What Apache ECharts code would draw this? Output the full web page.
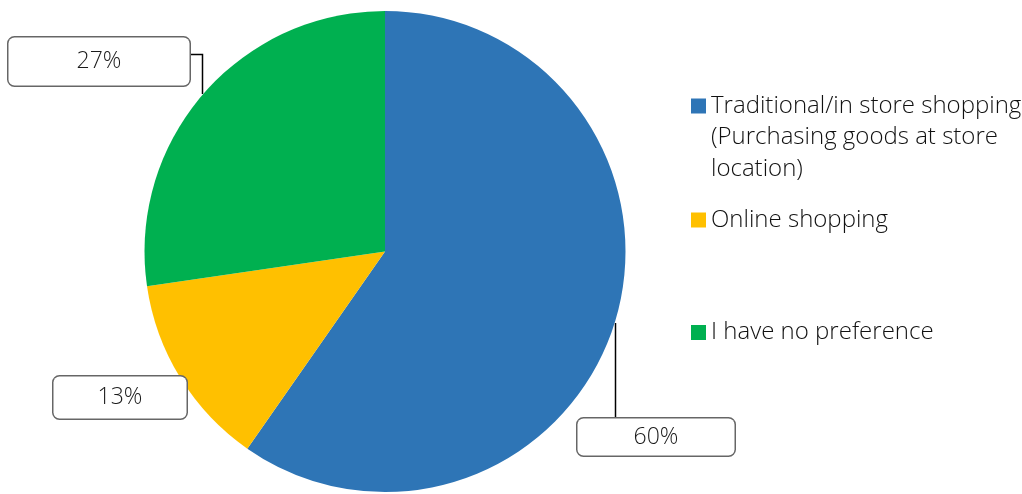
<!DOCTYPE html>
<html><head><meta charset="utf-8">
<script src="https://cdn.jsdelivr.net/npm/echarts@6/dist/echarts.min.js"></script>
<style>html,body{margin:0;padding:0;background:#fff}#c{width:1022px;height:494px}</style>
</head><body><div id="c"></div>
<script>
const categories = ['Traditional/in store shopping (Purchasing goods at store location)', 'Online shopping', 'I have no preference'];
const legendLines = [['Traditional/in store shopping', '(Purchasing goods at store', 'location)'], ['Online shopping'], ['I have no preference']];
const values = [59.7, 13.0, 27.3];
const colors = ['#2E75B6', '#FFC000', '#00B050'];

const FONT = '"Open Sans", "Noto Sans", sans-serif';
// label box geometry (centre x, centre y, width, height) and leader lines
const boxes = [
  {cx: 656, cy: 437, w: 157, h: 37, line: [[615.5, 323], [615.5, 418], [615.5, 418]]},
  {cx: 120, cy: 397.5, w: 133, h: 42, line: null},
  {cx: 99, cy: 61.5, w: 181, h: 48, line: [[202.5, 94], [202.5, 54.5], [190, 54.5]]}
];

const chart = echarts.init(document.getElementById('c'), null, {renderer: 'canvas'});
// icon centre y of each legend entry
const legendCentres = [106, 220, 332.5];
const LH = 31.5;
const legends = categories.map((c, i) => {
  const lines = legendLines[i];
  // pad with leading empty lines so the first line sits level with the icon
  const pad = lines.length - 1;
  const text = new Array(pad).fill('').concat(lines).join('\n');
  const n = pad + lines.length;
  return {
    data: [c],
    left: 691,
    top: legendCentres[i] - n * LH / 2,
    padding: 0,
    orient: 'vertical',
    itemWidth: 15,
    itemHeight: 15,
    icon: 'rect',
    selectedMode: false,
    formatter: () => text,
    textStyle: {fontFamily: FONT, fontSize: 24, fontWeight: 300, color: '#111', lineHeight: LH}
  };
});

chart.setOption({
  animation: false,
  color: colors,
  legend: legends,
  series: [{
    type: 'pie',
    center: [385, 251.5],
    radius: 240.5,
    startAngle: 90,
    clockwise: true,
    avoidLabelOverlap: false,
    percentPrecision: 0,
    itemStyle: {borderWidth: 0},
    data: categories.map((c, i) => ({
      name: c, value: values[i],
      label: {width: boxes[i].w, height: boxes[i].h, lineHeight: boxes[i].h},
      labelLine: {show: !!boxes[i].line}
    })),
    label: {
      show: true,
      position: 'outside',
      formatter: '{d}%',
      fontFamily: FONT, fontSize: 23, fontWeight: 300, color: '#1a1a1a',
      backgroundColor: '#fff', borderColor: '#666', borderWidth: 1.5, borderRadius: 6,
      align: 'center', verticalAlign: 'middle', padding: 0
    },
    labelLine: {show: true, lineStyle: {color: '#000', width: 1.5}},
    labelLayout: function (p) {
      const b = boxes[p.dataIndex];
      const r = {x: b.cx, y: b.cy, align: 'center', verticalAlign: 'middle'};
      if (b.line) r.labelLinePoints = b.line;
      return r;
    }
  }]
});
</script></body></html>
